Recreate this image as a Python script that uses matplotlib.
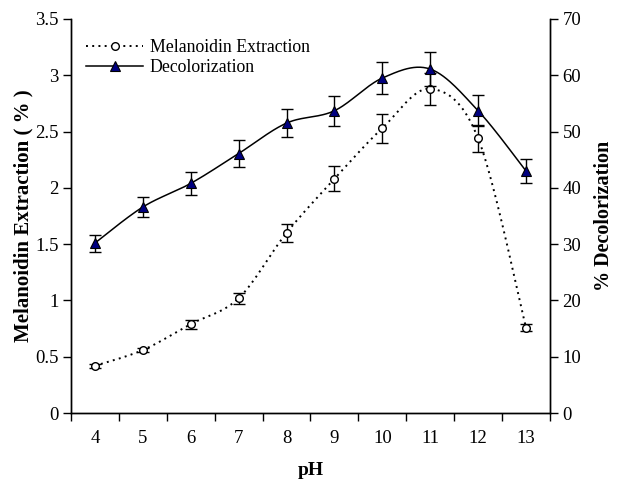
import numpy as np
import matplotlib
matplotlib.use("Agg")
import matplotlib.pyplot as plt
from matplotlib.lines import Line2D

plt.rcParams['font.family'] = ['Liberation Serif', 'DejaVu Serif']

ph = [4, 5, 6, 7, 8, 9, 10, 11, 12, 13]
melanoidin = [0.42, 0.56, 0.79, 1.02, 1.60, 2.08, 2.53, 2.88, 2.44, 0.76]
melanoidin_err = [0.02, 0.02, 0.04, 0.05, 0.08, 0.11, 0.13, 0.14, 0.12, 0.035]
decol = [30.2, 36.6, 40.8, 46.1, 51.5, 53.7, 59.5, 61.1, 53.7, 43.0]
decol_err = [1.5, 1.8, 2.0, 2.4, 2.5, 2.7, 2.9, 3.0, 2.8, 2.1]
tick_labels = [str(v) for v in ph]


def smooth(x, y, sx, sy, n=30):
    # Catmull-Rom style smoothing (like spreadsheet smoothed lines), done in scaled space
    px = np.asarray(x, float) * sx
    py = np.asarray(y, float) * sy
    P = np.column_stack([px, py])
    P = np.vstack([P[0], P, P[-1]])
    out = []
    for i in range(1, len(P) - 2):
        p0, p1, p2, p3 = P[i - 1], P[i], P[i + 1], P[i + 2]
        c1 = p1 + (p2 - p0) / 6.0
        c2 = p2 - (p3 - p1) / 6.0
        t = np.linspace(0, 1, n)[:, None]
        b = ((1 - t) ** 3) * p1 + 3 * ((1 - t) ** 2) * t * c1 + 3 * (1 - t) * t ** 2 * c2 + t ** 3 * p2
        out.append(b if i == 1 else b[1:])
    out = np.vstack(out)
    return out[:, 0] / sx, out[:, 1] / sy


fig = plt.figure(figsize=(6.2, 4.86), dpi=100)
ax = fig.add_axes([0.1145, 0.150, 0.7725, 0.811])
ax2 = ax.twinx()

mx, my = smooth(ph, melanoidin, 47.9, 112.6)
dx, dy = smooth(ph, decol, 47.9, 5.63)

ax.plot(mx, my, color='black', lw=1.4, linestyle=(0, (1, 2.2)))
ax.errorbar(ph, melanoidin, yerr=melanoidin_err, fmt='none', ecolor='black',
            elinewidth=1.0, capsize=4, capthick=1.0)
ax.plot(ph, melanoidin, linestyle='none', marker='o', markersize=5.5,
        markerfacecolor='white', markeredgecolor='black', markeredgewidth=1.0, zorder=5)

ax2.plot(dx, dy, color='black', lw=1.1)
ax2.errorbar(ph, decol, yerr=decol_err, fmt='none', ecolor='black',
             elinewidth=1.0, capsize=4, capthick=1.0)
ax2.plot(ph, decol, linestyle='none', marker='^', markersize=7.5,
         markerfacecolor='#000080', markeredgecolor='black', markeredgewidth=0.8, zorder=5)

ax.set_xlim(3.5, 13.5)
ax.set_ylim(0, 3.5)
ax2.set_ylim(0, 70)
ax.set_yticks(np.arange(0, 3.51, 0.5))
ax.set_yticklabels(['0', '0.5', '1', '1.5', '2', '2.5', '3', '3.5'])
ax2.set_yticks(np.arange(0, 71, 10))

ax.set_xticks(np.arange(3.5, 13.6, 1.0))
ax.set_xticklabels([])
ax.set_xticks(ph, minor=True)
ax.set_xticklabels(tick_labels, minor=True)
ax.tick_params(axis='x', which='major', direction='out', length=6, width=1)
ax.tick_params(axis='x', which='minor', length=0, pad=12, labelsize=13.5)
ax.tick_params(axis='y', direction='out', length=6, width=1, labelsize=13.5, pad=3)
ax2.tick_params(axis='y', direction='out', length=6, width=1, labelsize=13.5, pad=3)

for a in (ax, ax2):
    a.spines['top'].set_visible(False)
    for s in ('left', 'right', 'bottom'):
        a.spines[s].set_linewidth(1.0)

ax.set_xlabel('pH', fontsize=14, fontweight='bold', labelpad=11)
ax.set_ylabel('Melanoidin Extraction ( % )', fontsize=15, fontweight='bold', labelpad=1)
ax2.set_ylabel('% Decolorization', fontsize=14.5, fontweight='bold', labelpad=9)

h1 = Line2D([], [], color='black', lw=1.4, linestyle=(0, (1, 2.2)), marker='o', markersize=5.5,
            markerfacecolor='white', markeredgecolor='black')
h2 = Line2D([], [], color='black', lw=1.1, marker='^', markersize=7.5,
            markerfacecolor='#000080', markeredgecolor='black', markeredgewidth=0.8)
ax2.legend([h1, h2], ['Melanoidin Extraction', 'Decolorization'], loc='upper left',
           bbox_to_anchor=(0.01, 0.975), frameon=False, fontsize=12.8, handlelength=3.2,
           handletextpad=0.35, labelspacing=0.15, borderaxespad=0.2)

fig.savefig('out.png', dpi=100)
